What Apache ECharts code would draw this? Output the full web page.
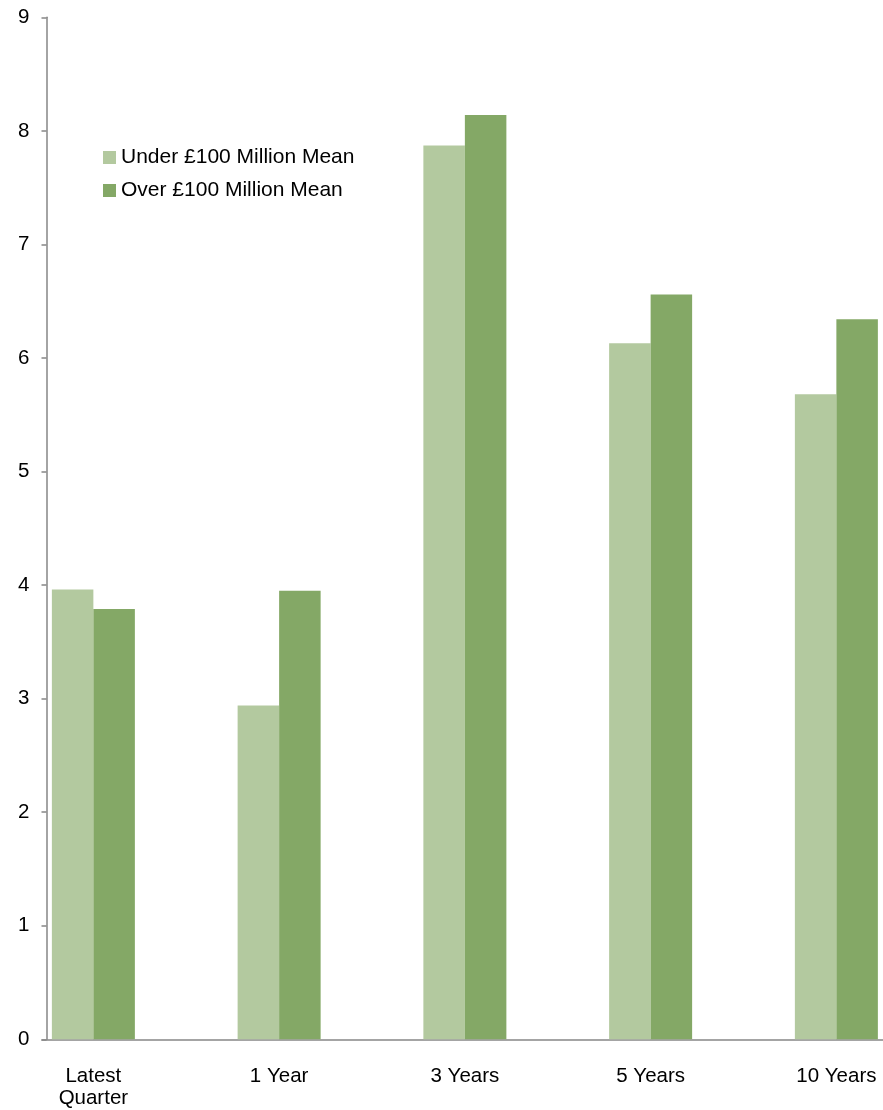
<!DOCTYPE html>
<html>
<head>
<meta charset="utf-8">
<script src="https://cdn.jsdelivr.net/npm/echarts@6/dist/echarts.min.js"></script>
<style>
html,body{margin:0;padding:0;background:#fff;}
#chart{width:883px;height:1110px;}
</style>
</head>
<body>
<div id="chart"></div>
<script>
var categories = ['Latest\nQuarter', '1 Year', '3 Years', '5 Years', '10 Years'];
var underMean = [3.96, 2.94, 7.87, 6.13, 5.68];
var overMean = [3.79, 3.95, 8.14, 6.56, 6.34];
var seriesNames = ['Under £100 Million Mean', 'Over £100 Million Mean'];
var yTicks = [0, 1, 2, 3, 4, 5, 6, 7, 8, 9];

var chart = echarts.init(document.getElementById('chart'));
var font = 'Liberation Sans, Arial, sans-serif';
chart.setOption({
  animation: false,
  backgroundColor: '#ffffff',
  grid: { left: 42, width: 928.75, top: 17.3, bottom: 70.7, containLabel: false, outerBoundsMode: 'none' },
  legend: {
    data: seriesNames,
    orient: 'vertical',
    left: 98,
    top: 142,
    itemWidth: 13,
    itemHeight: 13,
    itemGap: 12,
    icon: 'rect',
    textStyle: { fontFamily: font, fontSize: 21, color: '#000' }
  },
  xAxis: {
    type: 'category',
    data: categories,
    axisLine: { lineStyle: { color: '#868686', width: 1.5 } },
    axisTick: { show: false },
    axisLabel: {
      interval: 0,
      margin: 26,
      fontFamily: font,
      fontSize: 20.5,
      lineHeight: 22,
      color: '#000',
      padding: [0, 83, 0, 0]
    }
  },
  yAxis: {
    type: 'value',
    min: 0,
    max: 9,
    interval: 1,
    offset: -4.5,
    splitLine: { show: false },
    axisLine: { show: true, lineStyle: { color: '#868686', width: 1.5 } },
    axisTick: { show: true, length: 5, lineStyle: { color: '#868686', width: 1.5 } },
    axisLabel: {
      margin: 17,
      fontFamily: font,
      fontSize: 20.5,
      color: '#000',
      formatter: function (v) { return yTicks.indexOf(v) >= 0 ? String(v) : ''; }
    }
  },
  series: [
    { name: seriesNames[0], type: 'bar', data: underMean, barGap: '0%', barCategoryGap: '10.63%', itemStyle: { color: '#B3C99F' } },
    { name: seriesNames[1], type: 'bar', data: overMean, barGap: '0%', barCategoryGap: '10.63%', itemStyle: { color: '#84A866' } },
    { name: 'hidden1', type: 'bar', data: [null, null, null, null, null], barGap: '0%', barCategoryGap: '10.63%' },
    { name: 'hidden2', type: 'bar', data: [null, null, null, null, null], barGap: '0%', barCategoryGap: '10.63%' }
  ]
});
</script>
</body>
</html>
